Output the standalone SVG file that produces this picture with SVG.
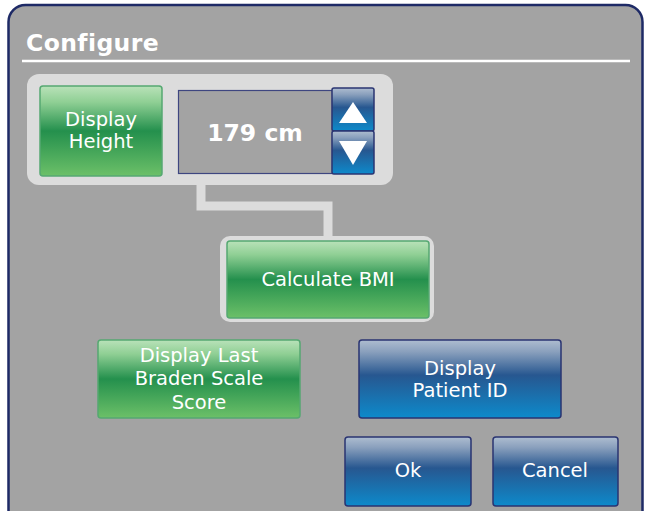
<svg xmlns="http://www.w3.org/2000/svg" width="645" height="511" viewBox="0 0 645 511">
<defs>
<linearGradient id="g" x1="0" y1="0" x2="0" y2="1">
<stop offset="0" stop-color="#b9e2b9"/>
<stop offset="0.18" stop-color="#8fcf94"/>
<stop offset="0.5" stop-color="#24904d"/>
<stop offset="1" stop-color="#6cc068"/>
</linearGradient>
<linearGradient id="b" x1="0" y1="0" x2="0" y2="1">
<stop offset="0" stop-color="#aebdd0"/>
<stop offset="0.15" stop-color="#8aa0bd"/>
<stop offset="0.45" stop-color="#275790"/>
<stop offset="1" stop-color="#0d8acb"/>
</linearGradient>
<style>
.panel{fill:#dcdcdc}
.gbtn{fill:url(#g);stroke:#55a871;stroke-width:1.5}
.bbtn{fill:url(#b);stroke:#2a3472;stroke-width:1.5}
.lbl{font-family:"DejaVu Sans",Verdana,sans-serif;font-size:19.5px;fill:#ffffff;text-anchor:middle}
.conn{fill:none;stroke:#dcdcdc;stroke-width:9}
</style>
</defs>
<rect x="0" y="0" width="645" height="511" fill="#ffffff"/>
<rect x="8.5" y="5" width="634" height="540" rx="17" fill="#a3a3a3" stroke="#1e2a66" stroke-width="2.5"/>
<text x="26" y="51" font-family="'DejaVu Sans',Verdana,sans-serif" font-weight="bold" font-size="23.5" letter-spacing="0.4" fill="#ffffff">Configure</text>
<line x1="22" y1="61" x2="630" y2="61" stroke="#ffffff" stroke-width="2.5"/>

<g id="connectors">
<path class="conn" d="M201,184 V206 H328 V238"/>
</g>

<g id="height-panel">
<rect class="panel" x="27" y="74" width="366" height="111" rx="12"/>
</g>
<g id="display-height">
<rect class="gbtn" x="40" y="86" width="122" height="90" rx="3"/>
<text class="lbl" x="101" y="126">Display</text>
<text class="lbl" x="101" y="148">Height</text>
</g>
<g id="height-value">
<rect x="178.5" y="90.5" width="154" height="83" fill="#a3a3a3" stroke="#3e4680" stroke-width="1.2"/>
<text x="255" y="141" font-family="'DejaVu Sans',Verdana,sans-serif" font-weight="bold" font-size="23.5" fill="#ffffff" text-anchor="middle">179 cm</text>
</g>
<g id="spin-up">
<rect class="bbtn" x="332" y="88" width="42" height="43" rx="2"/>
<polygon points="353,102 367,123 339,123" fill="#ffffff"/>
</g>
<g id="spin-down">
<rect class="bbtn" x="332" y="131" width="42" height="43" rx="2"/>
<polygon points="339,141 367,141 353,165" fill="#ffffff"/>
</g>

<g id="calculate-bmi">
<rect class="panel" x="220" y="236" width="214" height="86" rx="10"/>
<rect class="gbtn" x="227" y="241" width="202" height="77" rx="3"/>
<text class="lbl" x="328" y="286">Calculate BMI</text>
</g>

<g id="display-braden">
<rect class="gbtn" x="98" y="340" width="202" height="78" rx="3"/>
<text class="lbl" x="199" y="362">Display Last</text>
<text class="lbl" x="199" y="385">Braden Scale</text>
<text class="lbl" x="199" y="409">Score</text>
</g>

<g id="display-patient-id">
<rect class="bbtn" x="359" y="340" width="202" height="78" rx="3"/>
<text class="lbl" x="460" y="375">Display</text>
<text class="lbl" x="460" y="397">Patient ID</text>
</g>

<g id="ok">
<rect class="bbtn" x="345" y="437" width="126" height="69" rx="3"/>
<text class="lbl" x="408" y="477">Ok</text>
</g>

<g id="cancel">
<rect class="bbtn" x="493" y="437" width="125" height="69" rx="3"/>
<text class="lbl" x="555" y="477">Cancel</text>
</g>
</svg>
